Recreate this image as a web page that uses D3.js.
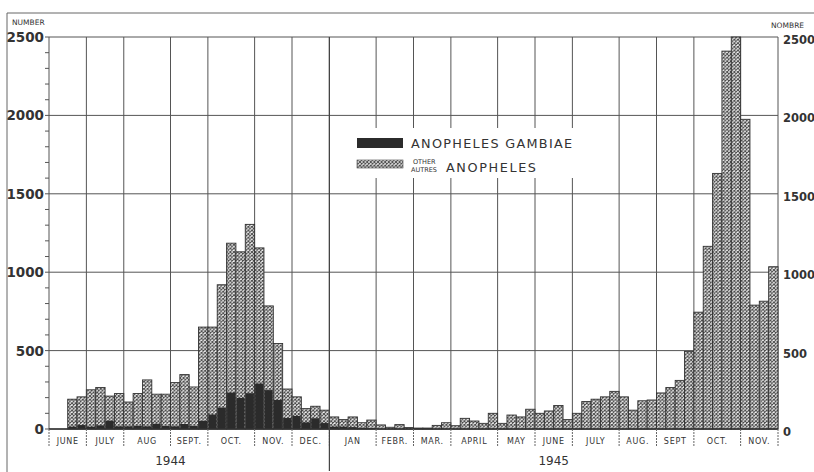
<!DOCTYPE html>
<html lang="en">
    <head>
        <meta charset="utf-8">
        <title>Anopheles - weekly catches 1944-1945</title>
        <script type="text/javascript" src="https://d3js.org/d3.v7.min.js"></script>
        <style>
            body { margin: 0; background: #fff; }
            text { font-family: "DejaVu Sans", sans-serif; fill: #333; }
        </style>
    </head>

    <body>

        <script type="text/javascript">

            var w = 814;
            var h = 472;

            // weekly counts, June 1944 -> Nov 1945 (78 weeks)
            var gambiae = [0, 0, 15, 25, 15, 23, 53, 17, 17, 20, 17, 34, 19, 17, 32, 19,
                52, 92, 136, 232, 198, 228, 290, 248, 185, 70, 83, 42, 68, 38,
                15, 15, 12, 8, 6, 0, 0, 0, 0, 0, 0, 0, 0, 0, 0, 0, 0, 0,
                0, 0, 0, 0, 0, 0, 0, 0, 0, 0, 0, 0, 0, 0, 0, 0, 0, 0,
                0, 0, 0, 0, 0, 0, 0, 0, 0, 0, 0, 0];
            var otherAnopheles = [0, 0, 175, 180, 235, 242, 157, 209, 155, 206, 296, 188, 203, 279, 315, 249,
                598, 558, 784, 953, 932, 1077, 865, 537, 360, 185, 122, 88, 77, 82,
                62, 45, 65, 32, 51, 26, 11, 28, 9, 6, 6, 23, 40, 21, 68, 51, 36, 100,
                36, 89, 77, 126, 100, 115, 150, 60, 100, 175, 190, 205, 240, 205, 120, 180, 185, 230,
                265, 310, 495, 745, 1165, 1630, 2410, 2500, 1975, 790, 815, 1035];

            // months along the axis, with the number of weeks in each
            var monthLabels = ["JUNE", "JULY", "AUG", "SEPT.", "OCT.", "NOV.", "DEC.",
                "JAN", "FEBR.", "MAR.", "APRIL", "MAY", "JUNE", "JULY", "AUG.", "SEPT", "OCT.", "NOV."];
            var monthWeeks = [4, 4, 5, 4, 5, 4, 4, 5, 4, 4, 5, 4, 4, 5, 4, 4, 5, 4];

            var yearLabels = ["1944", "1945"];
            var yearStartWeek = [0, 30];
            var yearLabelWeek = [13, 54];

            var yTicks = [0, 500, 1000, 1500, 2000, 2500];

            var weeks = d3.range(gambiae.length);
            var stacked = weeks.map(function(i) {
                return {week: i, g: gambiae[i], total: gambiae[i] + otherAnopheles[i]};
            });

            var xScale = d3.scaleBand()
                .domain(weeks)
                .range([49, 778]);

            var yScale = d3.scaleLinear()
                .domain([0, 2500])
                .range([429, 37]);

            var svg = d3.select("body")
                .append("svg")
                .attr("width", w)
                .attr("height", h);

            // crosshatch pattern for "other anopheles"
            var pat = svg.append("defs").append("pattern")
                .attr("id", "hatch")
                .attr("patternUnits", "userSpaceOnUse")
                .attr("width", 3.6)
                .attr("height", 3.6);
            pat.append("rect").attr("width", 3.6).attr("height", 3.6).attr("fill", "#fff");
            pat.append("path")
                .attr("d", "M0,0L3.6,3.6M3.6,0L0,3.6")
                .attr("stroke", "#444")
                .attr("stroke-width", 1);

            // outer frame of the page
            svg.append("path")
                .attr("d", "M7,472V13H814")
                .attr("fill", "none")
                .attr("stroke", "#666")
                .attr("stroke-width", 1);

            // month start positions
            var monthStart = [];
            var acc = 0;
            monthWeeks.forEach(function(n) { monthStart.push(acc); acc += n; });
            var edgeX = function(wk) { return wk >= weeks.length ? 778 : xScale(wk); };

            // grid
            svg.append("g").selectAll("line")
                .data(yTicks)
                .enter()
                .append("line")
                .attr("x1", 49).attr("x2", 778)
                .attr("y1", function(d) { return yScale(d); })
                .attr("y2", function(d) { return yScale(d); })
                .attr("stroke", "#555")
                .attr("stroke-width", 1);

            svg.append("g").selectAll("line")
                .data(monthStart.concat([weeks.length]))
                .enter()
                .append("line")
                .attr("x1", function(d) { return edgeX(d); })
                .attr("x2", function(d) { return edgeX(d); })
                .attr("y1", yScale(2500))
                .attr("y2", yScale(0))
                .attr("stroke", "#555")
                .attr("stroke-width", 1);

            // minor ticks on left axis
            svg.append("g").selectAll("line")
                .data(d3.range(0, 2501, 100))
                .enter()
                .append("line")
                .attr("x1", 45).attr("x2", 49)
                .attr("y1", function(d) { return yScale(d); })
                .attr("y2", function(d) { return yScale(d); })
                .attr("stroke", "#555");

            // bars: total (hatched) then gambiae (dark) on the bottom
            svg.append("g").selectAll("rect")
                .data(stacked.filter(function(d) { return d.total > 0; }))
                .enter()
                .append("rect")
                .attr("x", function(d) { return xScale(d.week); })
                .attr("y", function(d) { return yScale(d.total); })
                .attr("width", xScale.bandwidth())
                .attr("height", function(d) { return yScale(0) - yScale(d.total); })
                .attr("fill", "url(#hatch)")
                .attr("stroke", "#333")
                .attr("stroke-width", 0.9);

            svg.append("g").selectAll("rect")
                .data(stacked.filter(function(d) { return d.g > 0; }))
                .enter()
                .append("rect")
                .attr("x", function(d) { return xScale(d.week) + 0.5; })
                .attr("y", function(d) { return yScale(d.g); })
                .attr("width", xScale.bandwidth() - 1.2)
                .attr("height", function(d) { return yScale(0) - yScale(d.g); })
                .attr("fill", "#2b2b2b");

            // baseline
            svg.append("line")
                .attr("x1", 49).attr("x2", 778)
                .attr("y1", yScale(0)).attr("y2", yScale(0))
                .attr("stroke", "#333").attr("stroke-width", 1.3);

            // y labels, left and right
            svg.append("g").selectAll("text")
                .data(yTicks)
                .enter()
                .append("text")
                .attr("x", 44)
                .attr("y", function(d) { return yScale(d) + 5; })
                .attr("text-anchor", "end")
                .attr("font-family", "Liberation Sans")
                .attr("font-size", 13.5)
                .attr("font-weight", "bold")
                .text(function(d) { return d; });

            svg.append("g").selectAll("text")
                .data(yTicks)
                .enter()
                .append("text")
                .attr("x", 783)
                .attr("y", function(d) { return yScale(d) + 7; })
                .attr("font-family", "Liberation Sans")
                .attr("font-size", 11.5)
                .attr("font-weight", "bold")
                .text(function(d) { return d; });

            svg.append("text").attr("x", 12).attr("y", 25)
                .attr("font-size", 7.5).text("NUMBER");
            svg.append("text").attr("x", 771).attr("y", 28)
                .attr("font-size", 7.5).text("NOMBRE");

            // month separators and labels
            svg.append("g").selectAll("line")
                .data(monthStart.concat([weeks.length]))
                .enter()
                .append("line")
                .attr("x1", function(d) { return edgeX(d); })
                .attr("x2", function(d) { return edgeX(d); })
                .attr("y1", yScale(0))
                .attr("y2", 447)
                .attr("stroke", "#666")
                .attr("stroke-dasharray", "2,1");

            svg.append("g").selectAll("text")
                .data(monthLabels)
                .enter()
                .append("text")
                .attr("x", function(d, i) {
                    return (edgeX(monthStart[i]) + edgeX(monthStart[i] + monthWeeks[i])) / 2;
                })
                .attr("y", 444)
                .attr("text-anchor", "middle")
                .attr("font-size", 8)
                .attr("letter-spacing", 0.7)
                .text(function(d) { return d; });

            // year separator and labels
            svg.append("line")
                .attr("x1", xScale(yearStartWeek[1])).attr("x2", xScale(yearStartWeek[1]))
                .attr("y1", yScale(2500)).attr("y2", 471)
                .attr("stroke", "#444").attr("stroke-width", 1.2);

            svg.append("g").selectAll("text")
                .data(yearLabels)
                .enter()
                .append("text")
                .attr("x", function(d, i) { return xScale(yearLabelWeek[i]); })
                .attr("y", 465)
                .attr("text-anchor", "middle")
                .attr("font-size", 12)
                .text(function(d) { return d; });

            // legend
            var lg = svg.append("g");
            lg.append("rect").attr("x", 350).attr("y", 128).attr("width", 232).attr("height", 50).attr("fill", "#fff");
            lg.append("rect").attr("x", 357).attr("y", 138).attr("width", 46).attr("height", 10).attr("fill", "#2b2b2b");
            lg.append("rect").attr("x", 357).attr("y", 160).attr("width", 46).attr("height", 8)
                .attr("fill", "url(#hatch)").attr("stroke", "#444").attr("stroke-width", 0.6);
            lg.append("text").attr("x", 411).attr("y", 148).attr("font-size", 12.8)
                .attr("letter-spacing", 1.3).text("ANOPHELES GAMBIAE");
            lg.append("text").attr("x", 413).attr("y", 164).attr("font-size", 6.5).text("OTHER");
            lg.append("text").attr("x", 411).attr("y", 172).attr("font-size", 6.5).text("AUTRES");
            lg.append("text").attr("x", 446).attr("y", 172).attr("font-size", 12.8)
                .attr("letter-spacing", 1.6).text("ANOPHELES");

        </script>
    </body>
</html>
